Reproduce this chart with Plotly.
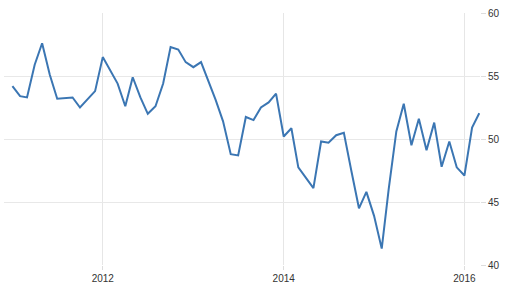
import plotly.graph_objects as go
import pandas as pd

dates = pd.date_range("2011-01-01", "2016-03-01", freq="MS")
values = [
    54.2, 53.4, 53.3, 55.9, 57.6, 55.1, 53.2, 53.25, 53.3, 52.5, 53.2, 53.8,
    56.5, 55.4, 54.4, 52.6, 54.9, 53.3, 52.0, 52.6, 54.4, 57.3, 57.1, 56.1,
    55.7, 56.1, 54.7, 53.1, 51.4, 48.8, 48.7, 51.75, 51.5, 52.5, 52.9, 53.6,
    50.2, 50.85, 47.75, 46.9, 46.1, 49.8, 49.7, 50.3, 50.5, 47.5, 44.5, 45.8,
    43.9, 41.3, 46.0, 50.6, 52.8, 49.5, 51.6, 49.1, 51.3, 47.8, 49.8, 47.75,
    47.1, 50.9, 52.05,
]
x_tickvals = ["2012-01-01", "2014-01-01", "2016-01-01"]
x_ticktext = ["2012", "2014", "2016"]
y_tickvals = [40, 45, 50, 55, 60]

fig = go.Figure()
fig.add_trace(go.Scatter(
    x=dates, y=values, mode="lines",
    line=dict(color="#3b76b3", width=2),
    hoverinfo="skip",
))

fig.update_layout(
    width=507, height=293,
    margin=dict(l=4, r=27, t=13, b=28),
    paper_bgcolor="white", plot_bgcolor="white",
    showlegend=False,
    font=dict(family="Liberation Sans, Arial, sans-serif", size=10, color="#333333"),
    xaxis=dict(
        type="date",
        range=["2010-11-28", "2016-03-04"],
        tickvals=x_tickvals, ticktext=x_ticktext,
        showgrid=True, gridcolor="#e6e6e6", gridwidth=1,
        ticks="outside", ticklen=4, tickcolor="#dddddd",
        showline=False, zeroline=False,
    ),
    yaxis=dict(
        side="right",
        range=[40, 60],
        tickvals=y_tickvals,
        showgrid=True, gridcolor="#e8e8e8", gridwidth=1,
        ticks="outside", ticklen=5, tickcolor="#dddddd",
        showline=False, zeroline=False,
    ),
)

fig.write_html("out.html")
